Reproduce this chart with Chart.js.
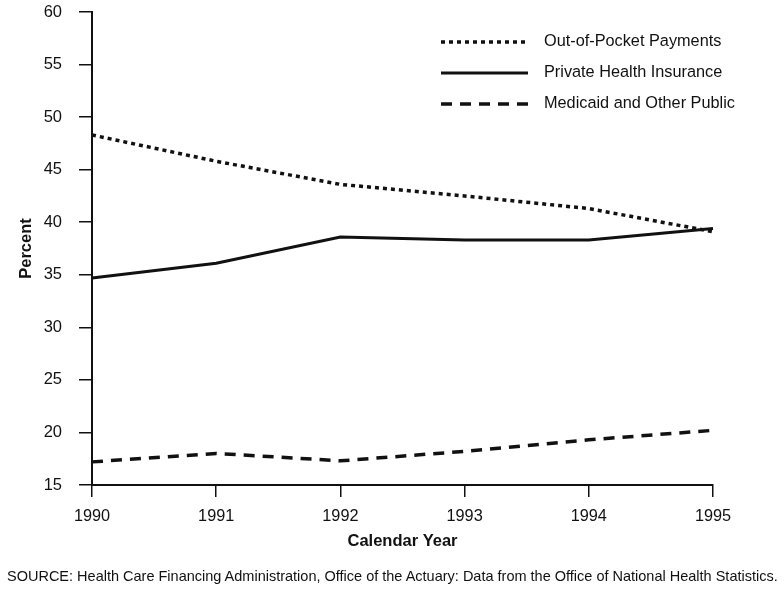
<!DOCTYPE html>
<html>
<head>
<meta charset="utf-8">
<script src="https://cdn.jsdelivr.net/npm/chart.js@4"></script>
<style>
  html,body{margin:0;padding:0;background:#fff;}
  #wrap{position:relative;width:784px;height:595px;}
  #source{position:absolute;left:7px;top:568px;font:14.5px "Liberation Sans",Arial,sans-serif;color:#111;white-space:nowrap;}
</style>
</head>
<body>
<div id="wrap">
  <canvas id="chart" width="784" height="595"></canvas>
  <div id="source">SOURCE: Health Care Financing Administration, Office of the Actuary: Data from the Office of National Health Statistics.</div>
</div>
<script>
const years = ['1990','1991','1992','1993','1994','1995'];
const outOfPocket = [48.3, 45.8, 43.6, 42.5, 41.3, 39.1];
const privateIns = [34.7, 36.1, 38.6, 38.3, 38.3, 39.4];
const medicaid = [17.2, 18.0, 17.3, 18.2, 19.3, 20.2];
const seriesNames = ['Out-of-Pocket Payments','Private Health Insurance','Medicaid and Other Public'];

const ink = '#111';
const font = '"Liberation Sans", Arial, sans-serif';

const legendLines = {
  id:'legendLines',
  afterDraw(chart){
    const ctx = chart.ctx;
    ctx.save();
    chart.data.datasets.forEach((ds,i)=>{
      const y = 42 + i*31;
      ctx.beginPath();
      ctx.setLineDash(ds.borderDash || []);
      ctx.lineWidth = ds.borderWidth;
      ctx.strokeStyle = ink;
      ctx.moveTo(441,y); ctx.lineTo(528,y); ctx.stroke();
      ctx.setLineDash([]);
      ctx.fillStyle = ink;
      ctx.font = '16.3px ' + font;
      ctx.textBaseline = 'middle';
      ctx.fillText(ds.label, 544, y);
    });
    ctx.restore();
  }
};

new Chart(document.getElementById('chart'),{
  type:'line',
  data:{
    labels:years,
    datasets:[
      {label:seriesNames[0],data:outOfPocket,borderColor:ink,borderWidth:3.5,borderDash:[4,4],pointRadius:0,tension:0},
      {label:seriesNames[1],data:privateIns,borderColor:ink,borderWidth:3,pointRadius:0,tension:0},
      {label:seriesNames[2],data:medicaid,borderColor:ink,borderWidth:3.5,borderDash:[11,8],pointRadius:0,tension:0}
    ]
  },
  options:{
    responsive:false,
    animation:false,
    layout:{padding:{top:12,right:71,left:13,bottom:40}},
    plugins:{legend:{display:false},tooltip:{enabled:false}},
    scales:{
      x:{
        offset:false,
        border:{color:ink,width:2},
        grid:{drawOnChartArea:false,color:ink,lineWidth:1.5,tickLength:12},
        ticks:{color:ink,font:{family:font,size:16.3},padding:10,maxRotation:0},
        title:{display:true,text:'Calendar Year',color:ink,font:{family:font,size:16.5,weight:'bold'},padding:{top:2}},
        afterFit(s){ s.height = 595-485-40; s.paddingLeft = 0; s.paddingRight = 0; }
      },
      y:{
        min:15,max:60,
        border:{color:ink,width:2},
        grid:{drawOnChartArea:false,color:ink,lineWidth:1.5,tickLength:13},
        ticks:{stepSize:5,color:ink,font:{family:font,size:16.5},padding:17},
        title:{display:true,text:'Percent',color:ink,font:{family:font,size:16.5,weight:'bold'},padding:{bottom:2}},
        afterFit(s){ s.width = 92-13; s.paddingTop = 0; s.paddingBottom = 0; }
      }
    }
  },
  plugins:[legendLines]
});
</script>
</body>
</html>
